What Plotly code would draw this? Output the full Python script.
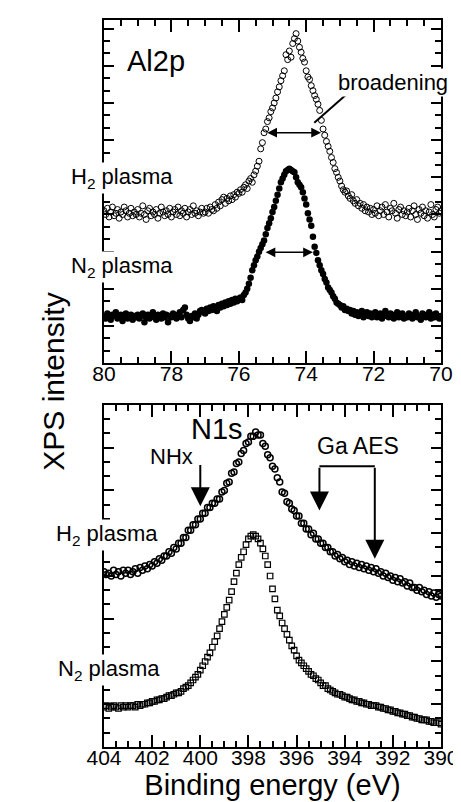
import plotly.graph_objects as go

# ---------------- Al2p panel (top) ----------------
al_energy = [
    80.00, 79.95, 79.90, 79.85, 79.80, 79.75, 79.70, 79.65, 79.60, 79.55, 79.50, 79.45, 79.40, 79.35, 79.30, 79.25, 79.20, 79.15, 79.10, 79.05,
    79.00, 78.95, 78.90, 78.85, 78.80, 78.75, 78.70, 78.65, 78.60, 78.55, 78.50, 78.45, 78.40, 78.35, 78.30, 78.25, 78.20, 78.15, 78.10, 78.05,
    78.00, 77.95, 77.90, 77.85, 77.80, 77.75, 77.70, 77.65, 77.60, 77.55, 77.50, 77.45, 77.40, 77.35, 77.30, 77.25, 77.20, 77.15, 77.10, 77.05,
    77.00, 76.95, 76.90, 76.85, 76.80, 76.75, 76.70, 76.65, 76.60, 76.55, 76.50, 76.45, 76.40, 76.35, 76.30, 76.25, 76.20, 76.15, 76.10, 76.05,
    76.00, 75.95, 75.90, 75.85, 75.80, 75.75, 75.70, 75.65, 75.60, 75.55, 75.50, 75.45, 75.40, 75.35, 75.30, 75.25, 75.20, 75.15, 75.10, 75.05,
    75.00, 74.95, 74.90, 74.85, 74.80, 74.75, 74.70, 74.65, 74.60, 74.55, 74.50, 74.45, 74.40, 74.35, 74.30, 74.25, 74.20, 74.15, 74.10, 74.05,
    74.00, 73.95, 73.90, 73.85, 73.80, 73.75, 73.70, 73.65, 73.60, 73.55, 73.50, 73.45, 73.40, 73.35, 73.30, 73.25, 73.20, 73.15, 73.10, 73.05,
    73.00, 72.95, 72.90, 72.85, 72.80, 72.75, 72.70, 72.65, 72.60, 72.55, 72.50, 72.45, 72.40, 72.35, 72.30, 72.25, 72.20, 72.15, 72.10, 72.05,
    72.00, 71.95, 71.90, 71.85, 71.80, 71.75, 71.70, 71.65, 71.60, 71.55, 71.50, 71.45, 71.40, 71.35, 71.30, 71.25, 71.20, 71.15, 71.10, 71.05,
    71.00, 70.95, 70.90, 70.85, 70.80, 70.75, 70.70, 70.65, 70.60, 70.55, 70.50, 70.45, 70.40, 70.35, 70.30, 70.25, 70.20, 70.15, 70.10, 70.05,
    70.00,
]

al_h2 = [
    12.3, 12.0, 12.5, 11.8, 12.2, 12.6, 11.9, 12.1, 12.4, 11.7, 12.2, 12.0, 12.6, 12.3, 11.8, 12.1, 12.5, 11.9, 12.2, 12.0,
    12.4, 11.8, 12.1, 12.7, 12.0, 11.6, 12.3, 12.5, 11.9, 12.2, 12.0, 12.4, 11.7, 12.1, 12.6, 12.2, 11.9, 12.3, 12.0, 12.5,
    11.8, 12.2, 12.4, 12.0, 12.6, 11.9, 12.3, 12.1, 12.5, 11.8, 12.2, 12.4, 12.0, 12.7, 12.1, 12.3, 11.9, 12.2, 12.5, 12.1,
    12.2, 12.5, 12.1, 12.6, 12.4, 12.3, 12.8, 12.5, 13.0, 12.7, 13.2, 13.4, 12.9, 13.3, 13.1, 13.5, 13.2, 13.6, 13.4, 13.8,
    13.7, 14.0, 13.8, 14.2, 14.4, 14.1, 14.7, 14.9, 14.6, 15.2, 15.5, 15.9, 16.3, 17.3, 17.8, 18.6, 18.9, 19.5, 19.8, 20.3,
    20.6, 21.0, 21.4, 21.9, 22.3, 22.8, 23.2, 23.6, 24.9, 24.5, 25.2, 24.7, 25.8, 26.2, 26.6, 26.0, 25.5, 25.1, 24.6, 24.3,
    23.6, 23.1, 22.9, 22.4, 22.0, 21.6, 21.3, 20.9, 20.4, 19.6, 18.9, 18.4, 17.9, 17.5, 17.1, 16.6, 16.2, 15.7, 15.4, 15.0,
    14.7, 14.3, 14.0, 13.8, 13.9, 13.5, 13.3, 13.6, 13.1, 12.9, 13.2, 12.7, 12.9, 12.5, 12.8, 12.3, 12.6, 12.2, 12.5, 12.0,
    12.4, 12.1, 12.7, 11.9, 12.3, 12.6, 12.0, 12.8, 12.2, 11.8, 12.5, 12.3, 12.9, 12.1, 11.7, 12.4, 12.6, 12.0, 12.3, 11.9,
    12.2, 12.5, 11.8, 12.3, 12.7, 12.0, 11.6, 12.4, 12.1, 12.6, 11.9, 12.3, 11.7, 12.2, 12.8, 12.0, 11.8, 12.4, 12.6, 12.1,
    12.3,
]

al_n2 = [
    3.8, 3.6, 4.0, 3.7, 3.5, 3.9, 3.8, 4.1, 3.6, 3.7, 3.9, 3.4, 3.8, 4.0, 3.6, 3.7, 3.9, 3.5, 3.8, 3.7,
    3.9, 3.6, 3.8, 4.0, 3.3, 3.7, 3.9, 3.6, 3.8, 4.1, 3.7, 3.5, 3.9, 3.8, 3.6, 4.0, 3.7, 3.9, 3.3, 3.8,
    3.7, 4.0, 3.8, 3.6, 3.9, 4.1, 3.7, 4.3, 4.5, 3.9, 3.6, 3.4, 3.8, 3.7, 4.0, 3.6, 3.9, 4.2, 4.3, 4.1,
    4.0, 4.4, 4.2, 4.5, 4.3, 4.6, 4.4, 4.2, 4.7, 4.5, 4.8, 4.6, 4.9, 4.7, 5.0, 4.8, 5.1, 4.9, 5.2, 5.0,
    5.2, 5.3, 5.1, 5.5, 5.7, 6.0, 6.4, 6.9, 7.5, 7.9, 8.3, 8.6, 9.0, 9.3, 9.6, 9.9, 10.4, 10.9, 11.3, 11.7,
    12.2, 12.6, 13.1, 13.6, 14.1, 14.6, 14.9, 15.2, 15.5, 15.6, 15.7, 15.6, 15.5, 15.4, 15.0, 14.6, 14.4, 14.2, 13.8, 13.3,
    12.8, 12.1, 11.6, 11.1, 10.2, 9.4, 8.9, 8.3, 7.9, 7.5, 7.2, 6.8, 6.5, 6.1, 5.9, 5.7, 5.4, 5.2, 4.9, 4.8,
    4.7, 4.5, 4.6, 4.3, 4.4, 4.2, 4.3, 4.0, 4.2, 3.9, 4.1, 3.8, 4.0, 4.2, 3.7, 3.9, 4.1, 3.8, 4.0, 3.7,
    3.9, 4.1, 3.7, 3.8, 4.0, 3.6, 3.9, 4.2, 3.8, 3.7, 4.0, 3.9, 3.6, 3.8, 4.1, 3.7, 3.9, 4.0, 3.6, 3.8,
    3.7, 4.0, 3.8, 3.6, 3.9, 4.1, 3.7, 3.8, 3.5, 4.0, 3.9, 3.7, 3.8, 4.1, 3.6, 3.9, 3.7, 4.0, 3.8, 3.6,
    3.8,
]

al_ticks = [80, 78, 76, 74, 72, 70]

# ---------------- N1s panel (bottom) ----------------
n_energy = [
    404.0, 403.9, 403.8, 403.7, 403.6, 403.5, 403.4, 403.3, 403.2, 403.1,
    403.0, 402.9, 402.8, 402.7, 402.6, 402.5, 402.4, 402.3, 402.2, 402.1,
    402.0, 401.9, 401.8, 401.7, 401.6, 401.5, 401.4, 401.3, 401.2, 401.1,
    401.0, 400.9, 400.8, 400.7, 400.6, 400.5, 400.4, 400.3, 400.2, 400.1,
    400.0, 399.9, 399.8, 399.7, 399.6, 399.5, 399.4, 399.3, 399.2, 399.1,
    399.0, 398.9, 398.8, 398.7, 398.6, 398.5, 398.4, 398.3, 398.2, 398.1,
    398.0, 397.9, 397.8, 397.7, 397.6, 397.5, 397.4, 397.3, 397.2, 397.1,
    397.0, 396.9, 396.8, 396.7, 396.6, 396.5, 396.4, 396.3, 396.2, 396.1,
    396.0, 395.9, 395.8, 395.7, 395.6, 395.5, 395.4, 395.3, 395.2, 395.1,
    395.0, 394.9, 394.8, 394.7, 394.6, 394.5, 394.4, 394.3, 394.2, 394.1,
    394.0, 393.9, 393.8, 393.7, 393.6, 393.5, 393.4, 393.3, 393.2, 393.1,
    393.0, 392.9, 392.8, 392.7, 392.6, 392.5, 392.4, 392.3, 392.2, 392.1,
    392.0, 391.9, 391.8, 391.7, 391.6, 391.5, 391.4, 391.3, 391.2, 391.1,
    391.0, 390.9, 390.8, 390.7, 390.6, 390.5, 390.4, 390.3, 390.2, 390.1,
    390.0,
]

n_h2 = [
    12.3, 12.1, 12.2, 12.0, 12.4, 12.1, 12.3, 12.0, 12.4, 12.2,
    12.4, 12.1, 12.3, 12.5, 12.2, 12.6, 12.4, 12.7, 12.5, 12.8,
    12.7, 13.0, 12.9, 13.2, 13.1, 13.4, 13.4, 13.7, 13.6, 14.0,
    13.9, 14.3, 14.3, 14.7, 14.7, 15.2, 15.2, 15.6, 15.6, 16.0,
    16.0, 16.4, 16.4, 16.8, 16.8, 17.1, 17.1, 17.4, 17.4, 17.9,
    18.0, 18.5, 18.6, 19.2, 19.3, 19.9, 20.0, 20.6, 20.8, 21.3,
    21.4, 21.8, 21.8, 22.1, 21.9, 21.9, 21.3, 21.1, 20.5, 20.3,
    19.7, 19.5, 18.9, 18.6, 17.9, 17.8, 17.2, 17.1, 16.7, 16.6,
    16.2, 16.2, 15.7, 15.7, 15.3, 15.3, 14.9, 15.0, 14.6, 14.6,
    14.3, 14.3, 14.0, 14.0, 13.7, 13.7, 13.4, 13.5, 13.2, 13.3,
    13.0, 13.1, 12.8, 13.0, 12.7, 12.9, 12.6, 12.8, 12.5, 12.7,
    12.4, 12.6, 12.3, 12.5, 12.2, 12.3, 12.0, 12.2, 11.9, 12.0,
    11.7, 11.9, 11.6, 11.8, 11.5, 11.6, 11.3, 11.5, 11.2, 11.2,
    11.0, 11.2, 10.9, 11.0, 10.7, 10.9, 10.6, 10.8, 10.5, 10.7,
    10.6,
]

n_n2 = [
    2.8, 2.9, 2.7, 2.8, 2.9, 2.8, 2.7, 2.9, 2.8, 2.9,
    2.8, 2.9, 2.9, 2.8, 3.0, 2.9, 3.0, 3.0, 3.1, 3.1,
    3.2, 3.2, 3.3, 3.3, 3.4, 3.4, 3.5, 3.6, 3.6, 3.7,
    3.8, 3.8, 3.9, 4.1, 4.2, 4.3, 4.5, 4.7, 4.9, 5.1,
    5.4, 5.7, 6.0, 6.3, 6.6, 7.0, 7.4, 7.8, 8.3, 8.8,
    9.3, 9.8, 10.3, 10.9, 11.6, 12.2, 12.8, 13.3, 13.7, 14.2,
    14.6, 14.8, 14.9, 14.8, 14.6, 14.3, 13.9, 13.4, 12.8, 12.0,
    11.1, 10.4, 9.6, 9.2, 8.7, 8.3, 7.9, 7.5, 7.1, 6.8,
    6.4, 6.1, 5.9, 5.7, 5.5, 5.3, 5.1, 5.0, 4.8, 4.7,
    4.5, 4.3, 4.3, 4.1, 4.0, 3.9, 3.8, 3.7, 3.7, 3.6,
    3.5, 3.5, 3.4, 3.3, 3.3, 3.2, 3.2, 3.1, 3.1, 3.0,
    3.0, 2.9, 2.9, 2.9, 2.8, 2.8, 2.7, 2.7, 2.6, 2.6,
    2.5, 2.5, 2.4, 2.4, 2.3, 2.3, 2.2, 2.2, 2.1, 2.1,
    2.0, 2.0, 1.9, 1.9, 1.9, 1.8, 1.8, 1.7, 1.7, 1.7,
    1.6,
]

n_ticks = [404, 402, 400, 398, 396, 394, 392, 390]

FONT = "Liberation Sans"

fig = go.Figure()

fig.add_trace(go.Scatter(
    x=al_energy, y=al_h2, mode="markers", xaxis="x", yaxis="y",
    marker=dict(symbol="circle-open", size=6, color="black", line=dict(width=1, color="black")),
    showlegend=False))
fig.add_trace(go.Scatter(
    x=al_energy, y=al_n2, mode="markers", xaxis="x", yaxis="y",
    marker=dict(symbol="circle", size=6.5, color="black"),
    showlegend=False))
fig.add_trace(go.Scatter(
    x=n_energy, y=n_h2, mode="markers", xaxis="x2", yaxis="y2",
    marker=dict(symbol="circle-open", size=6, color="black", line=dict(width=1.5, color="black")),
    showlegend=False))
fig.add_trace(go.Scatter(
    x=n_energy, y=n_n2, mode="markers", xaxis="x2", yaxis="y2",
    marker=dict(symbol="square-open", size=5.5, color="black", line=dict(width=1.2, color="black")),
    showlegend=False))

axis_common = dict(
    showline=True, linewidth=2, linecolor="black", mirror="ticks",
    ticks="inside", tickwidth=2, tickcolor="black",
    showgrid=False, zeroline=False,
)
minor_common = dict(ticks="inside", ticklen=6, tickwidth=1.5, tickcolor="black")

fig.update_layout(
    width=461, height=802,
    margin=dict(l=96, r=19, t=10, b=63),
    paper_bgcolor="white", plot_bgcolor="white",
    font=dict(family=FONT, color="black"),
    xaxis=dict(
        **axis_common, domain=[0, 1], anchor="y", range=[80, 70],
        tickmode="array", tickvals=al_ticks, ticklen=12, ticklabelstandoff=-9,
        tickfont=dict(size=21, family=FONT),
        minor=dict(**minor_common, dtick=0.5, tick0=80),
    ),
    yaxis=dict(
        **axis_common, domain=[0.528, 1], anchor="x", range=[0, 27.7],
        dtick=3, tick0=0, ticklen=10, showticklabels=False,
        minor=dict(**minor_common, dtick=1, tick0=0),
    ),
    xaxis2=dict(
        **axis_common, domain=[0, 1], anchor="y2", range=[404, 390],
        tickmode="array", tickvals=n_ticks, ticklen=12, ticklabelstandoff=-9,
        tickfont=dict(size=21, family=FONT),
        minor=dict(**minor_common, dtick=0.5, tick0=404),
        title=dict(text="Binding energy (eV)", font=dict(size=29, family=FONT), standoff=2),
    ),
    yaxis2=dict(
        **axis_common, domain=[0, 0.4705], anchor="x2", range=[0, 24],
        dtick=3, tick0=0, ticklen=10, showticklabels=False,
        minor=dict(**minor_common, dtick=1, tick0=0),
    ),
)

ann = []
ann.append(dict(text="Al2p", x=78.47, y=24.4, xref="x", yref="y", showarrow=False,
                font=dict(size=29, family=FONT)))
ann.append(dict(text="broadening", x=71.42, y=22.65, xref="x", yref="y", showarrow=False,
                bgcolor="white", font=dict(size=22, family=FONT)))
ann.append(dict(text="N1s", x=399.3, y=22.3, xref="x2", yref="y2", showarrow=False,
                font=dict(size=29, family=FONT)))
ann.append(dict(text="NHx", x=401.2, y=20.4, xref="x2", yref="y2", showarrow=False,
                font=dict(size=22, family=FONT)))
ann.append(dict(text="Ga AES", x=393.44, y=21.1, xref="x2", yref="y2", showarrow=False,
                font=dict(size=23, family=FONT)))

for txt, xp, yp in [
    ("H<sub>2</sub> plasma", -0.104, 0.783),
    ("N<sub>2</sub> plasma", -0.104, 0.660),
    ("H<sub>2</sub> plasma", -0.147, 0.292),
    ("N<sub>2</sub> plasma", -0.142, 0.106),
]:
    ann.append(dict(text=txt, x=xp, y=yp, xref="paper", yref="paper", xanchor="left",
                    yanchor="middle", showarrow=False, bgcolor="white",
                    font=dict(size=22, family=FONT)))

ann.append(dict(text="XPS intensity", x=-0.205, y=0.503, xref="paper", yref="paper",
                textangle=-90, showarrow=False, font=dict(size=30, family=FONT)))

for x0, x1, yy in [(75.2, 73.56, 18.6), (75.25, 73.8, 8.95)]:
    ann.append(dict(text="", x=x1, y=yy, ax=x0, ay=yy, xref="x", yref="y", axref="x", ayref="y",
                    showarrow=True, arrowhead=2, startarrowhead=2, arrowside="end+start",
                    arrowsize=1.3, startarrowsize=1.3, arrowwidth=1.5, arrowcolor="black"))

for xx, ytip, ytail in [(400.0, 16.9, 19.9), (395.05, 16.6, 19.7), (392.75, 13.2, 19.7)]:
    ann.append(dict(text="", x=xx, y=ytip, ax=xx, ay=ytail, xref="x2", yref="y2", axref="x2", ayref="y2",
                    showarrow=True, arrowhead=2, arrowsize=1.9, arrowwidth=2, arrowcolor="black"))

fig.update_layout(annotations=ann)

fig.add_shape(type="line", xref="x", yref="y", x0=72.8, y0=21.7, x1=73.76, y1=19.4,
              line=dict(color="black", width=2))
fig.add_shape(type="line", xref="x2", yref="y2", x0=395.05, y0=19.7, x1=392.75, y1=19.7,
              line=dict(color="black", width=2))

fig.write_html("out.html")
